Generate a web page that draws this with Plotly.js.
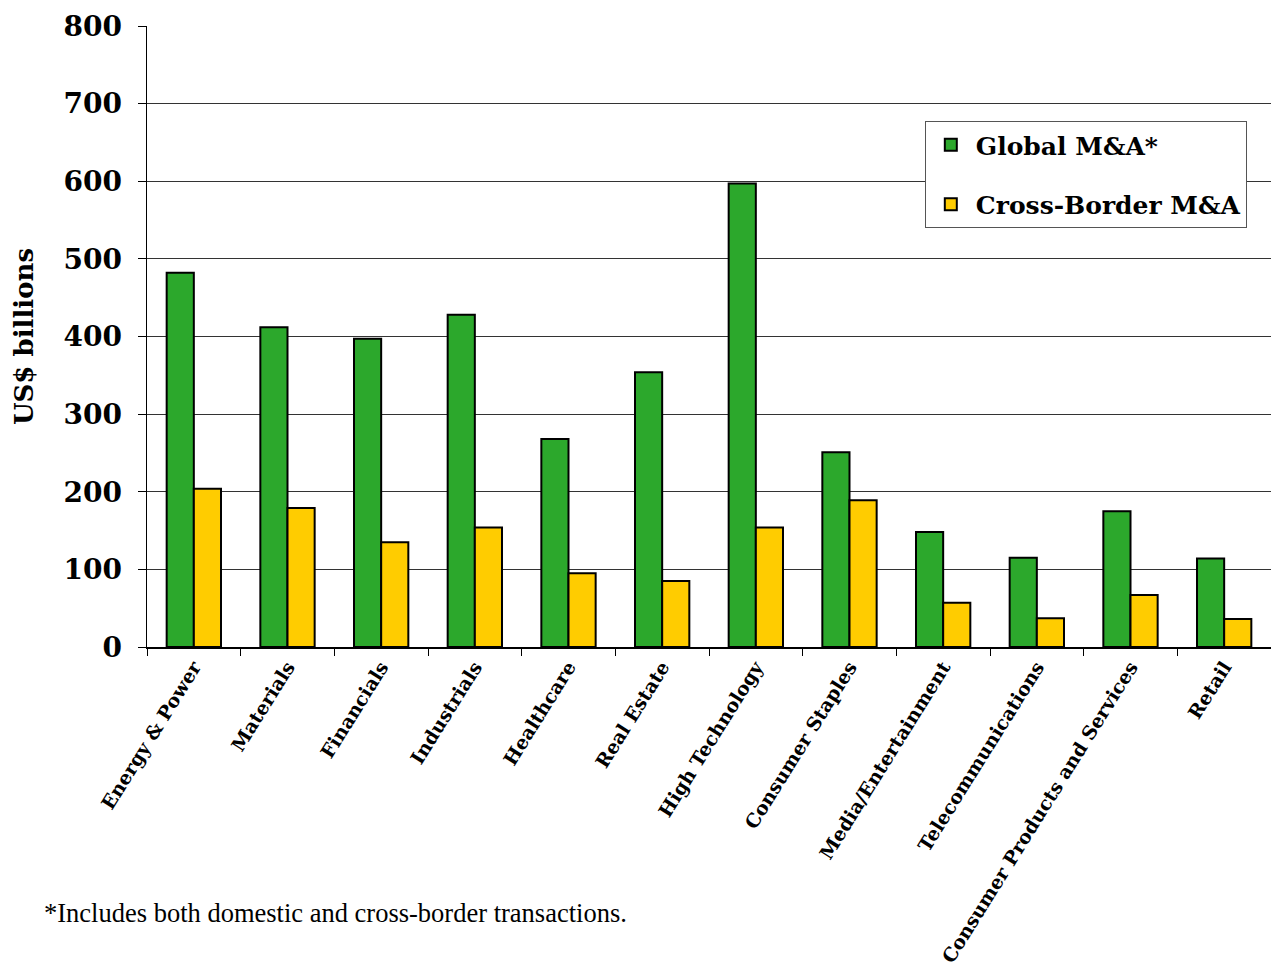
<!DOCTYPE html>
<html>
<head>
<meta charset="utf-8">
<script src="https://cdn.plot.ly/plotly-3.0.1.min.js"></script>
<style>html,body{margin:0;padding:0;background:#fff;}#chart{width:1271px;height:969px;}</style>
</head>
<body>
<div id="chart"></div>
<script>
const categories = ["Energy & Power","Materials","Financials","Industrials","Healthcare","Real Estate","High Technology","Consumer Staples","Media/Entertainment","Telecommunications","Consumer Products and Services","Retail"];
const globalMA = [482, 412, 397, 428, 268, 354, 597, 251, 148, 115, 175, 114];
const crossBorderMA = [204, 179, 135, 154, 95, 85, 154, 189, 57, 37, 67, 36];
const yTicks = [0, 100, 200, 300, 400, 500, 600, 700, 800];

const serifBold = "'DejaVu Serif', 'Liberation Serif', serif";

const traces = [
  {type:'bar', name:'Global M&A*', x:categories, y:globalMA, legendgroup:'g1',
   marker:{color:'#2CA82C', line:{color:'#000', width:2}}},
  {type:'bar', name:'Cross-Border M&A', x:categories, y:crossBorderMA, legendgroup:'g2',
   marker:{color:'#FFCC00', line:{color:'#000', width:2}}}
];

const layout = {
  width:1271, height:969,
  margin:{l:147, r:0, t:26, b:322},
  paper_bgcolor:'#fff', plot_bgcolor:'#fff',
  barmode:'group', bargap:0.42, bargroupgap:0,
  showlegend:true,
  legend:{x:0.692, y:0.847, xanchor:'left', yanchor:'top',
    bordercolor:'#555', borderwidth:1, bgcolor:'#fff',
    font:{family:serifBold, size:25, color:'#000', weight:'bold'},
    traceorder:'grouped', tracegroupgap:24, itemwidth:40},
  xaxis:{type:'category', tickangle:-58, showline:true, linecolor:'#000', linewidth:1.5,
    ticks:'outside', tickson:'boundaries', ticklen:7, tickcolor:'#000',
    tickfont:{family:serifBold, size:19, color:'#000', weight:'bold'}, automargin:false},
  yaxis:{range:[0,800], tickvals:yTicks, ticktext:yTicks.map(String), showline:true, linecolor:'#000', linewidth:1.5,
    ticks:'outside', ticklen:8, tickcolor:'#000', showgrid:true, gridcolor:'#333', gridwidth:1,
    ticklabelstandoff:10,
    tickfont:{family:serifBold, size:28, color:'#000', weight:'bold'}, automargin:false,
    title:{text:'US$ billions', standoff:22, font:{family:serifBold, size:26, color:'#000', weight:'bold'}}},
  annotations:[{
    text:'*Includes both domestic and cross-border transactions.', xref:'paper', yref:'paper',
    x:-0.0934, y:-0.428, xanchor:'left', yanchor:'middle', showarrow:false,
    font:{family:"'Liberation Serif', serif", size:26.5, color:'#000'}
  }]
};

Plotly.newPlot('chart', traces, layout, {displayModeBar:false, staticPlot:true});
</script>
</body>
</html>
